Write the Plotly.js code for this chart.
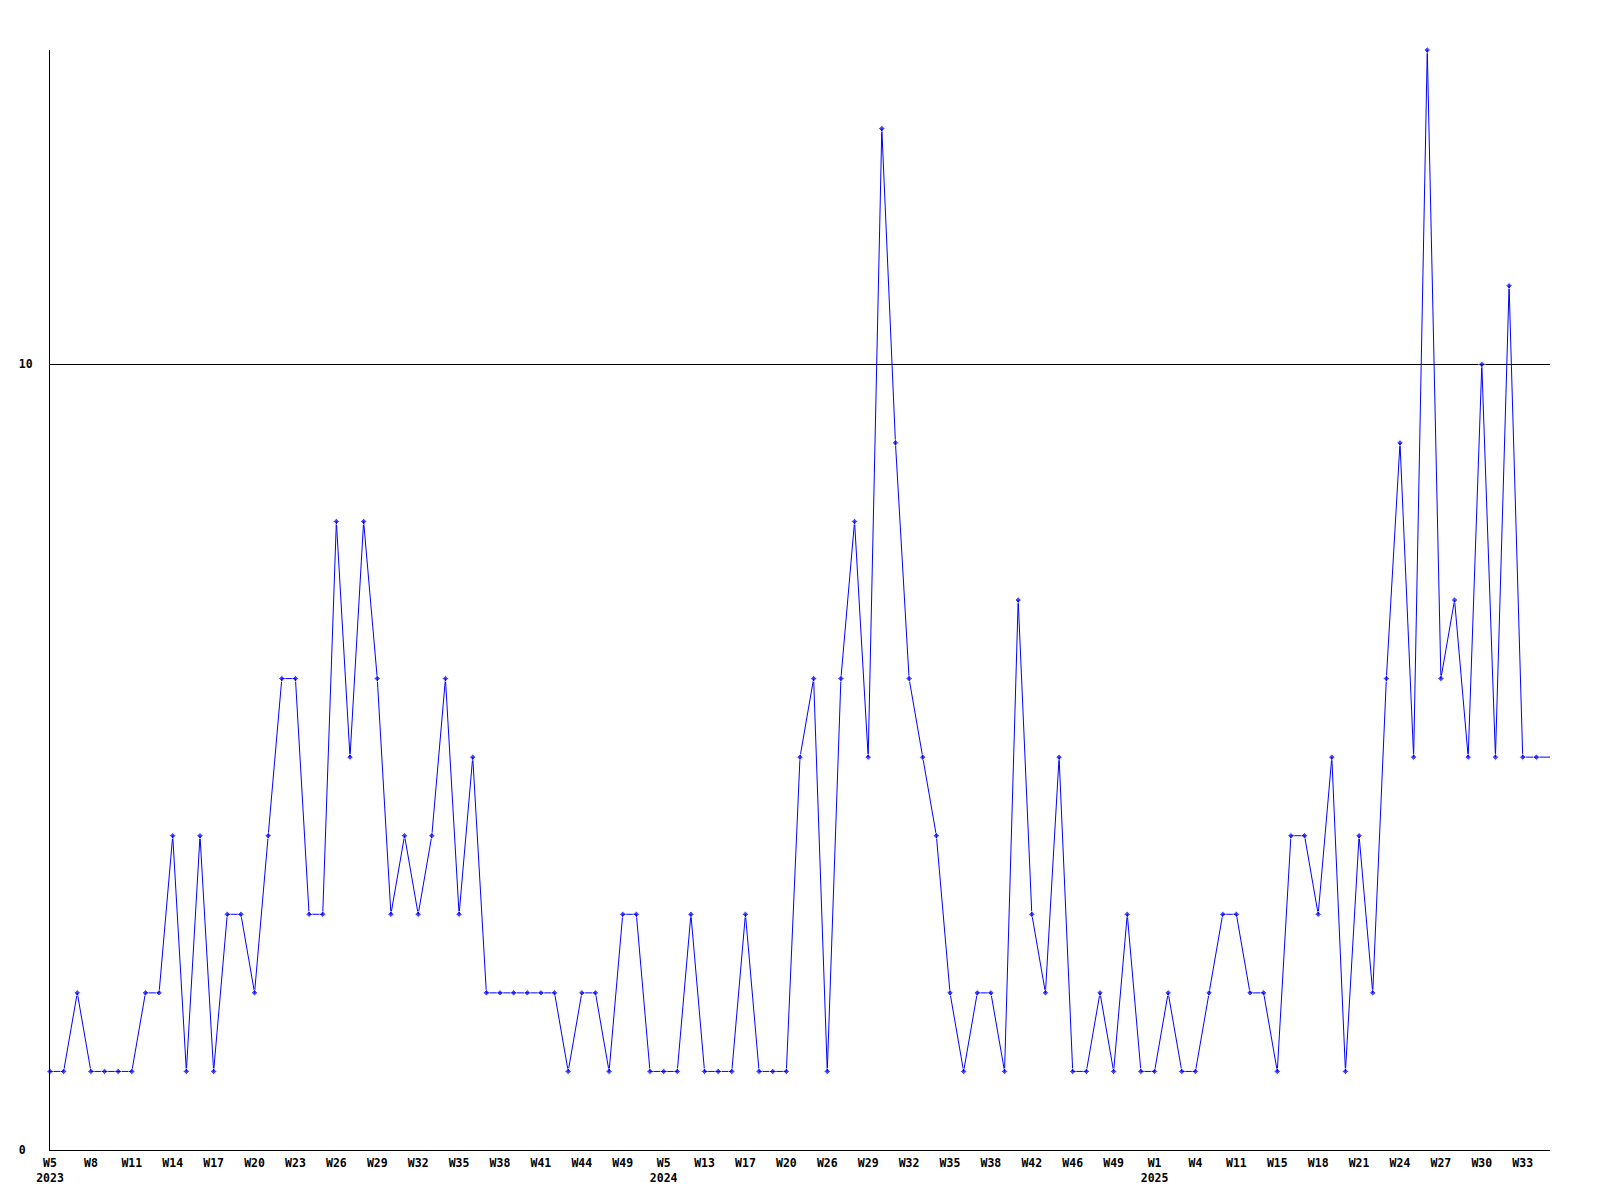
<!DOCTYPE html>
<html>
<head>
<meta charset="utf-8">
<script src="https://cdn.plot.ly/plotly-3.0.1.min.js"></script>
<style>
  html, body { margin: 0; padding: 0; background: #ffffff; }
  #chart { width: 1600px; height: 1200px; }
</style>
</head>
<body>
<div id="chart"></div>
<script>
// ---- data ----
const years = [
  2023,2023,2023,2023,2023,2023,2023,2023,2023,2023,
  2023,2023,2023,2023,2023,2023,2023,2023,2023,2023,
  2023,2023,2023,2023,2023,2023,2023,2023,2023,2023,
  2023,2023,2023,2023,2023,2023,2023,2023,2023,2023,
  2023,2023,2023,2023,2023,
  2024,2024,2024,2024,2024,2024,2024,2024,2024,2024,
  2024,2024,2024,2024,2024,2024,2024,2024,2024,2024,
  2024,2024,2024,2024,2024,2024,2024,2024,2024,2024,
  2024,2024,2024,2024,2024,2024,
  2025,2025,2025,2025,2025,2025,2025,2025,2025,2025,
  2025,2025,2025,2025,2025,2025,2025,2025,2025,2025,
  2025,2025,2025,2025,2025,2025,2025,2025,2025,2025
];
const weeks = [
  "W5","W6","W7","W8","W9","W10","W11","W12","W13","W14",
  "W15","W16","W17","W18","W19","W20","W21","W22","W23","W24",
  "W25","W26","W27","W28","W29","W30","W31","W32","W33","W34",
  "W35","W36","W37","W38","W39","W40","W41","W42","W43","W44",
  "W46","W47","W49","W50","W52",
  "W5","W8","W10","W13","W14","W16","W17","W18","W19","W20",
  "W22","W24","W26","W27","W28","W29","W30","W31","W32","W33",
  "W34","W35","W36","W37","W38","W39","W41","W42","W43","W44",
  "W46","W47","W48","W49","W50","W52",
  "W1","W2","W3","W4","W6","W9","W11","W12","W14","W15",
  "W16","W17","W18","W19","W20","W21","W22","W23","W24","W25",
  "W26","W27","W28","W29","W30","W31","W32","W33","W34","W35"
];
const counts = [
  1,1,2,1,1,1,1,2,2,4,
  1,4,1,3,3,2,4,6,6,3,
  3,8,5,8,6,3,4,3,4,6,
  3,5,2,2,2,2,2,2,1,2,
  2,1,3,3,1,
  1,1,3,1,1,1,3,1,1,1,
  5,6,1,6,8,5,13,9,6,5,
  4,2,1,2,2,1,7,3,2,5,
  1,1,2,1,3,1,
  1,2,1,1,2,3,3,2,2,1,
  4,4,3,5,1,4,2,6,9,5,
  14,6,7,5,10,5,11,5,5,5
];
const yTickVals = [0, 10];
const yTickText = ["0\u00a0", "10"];

// ---- build ticks every third point ----
const xIdx = counts.map((_, i) => i);
const tickVals = [];
const tickText = [];
let lastYear = null;
for (let i = 0; i < weeks.length; i += 3) {
  tickVals.push(i);
  let t = weeks[i];
  if (years[i] !== lastYear) { t += "<br>" + years[i]; lastYear = years[i]; }
  tickText.push(t);
}
const markerSizes = counts.map((_, i) => (i === counts.length - 1 ? 0 : 5));

const fontFam = '"DejaVu Sans Mono", "Liberation Mono", monospace';

const trace = {
  type: 'scatter',
  mode: 'lines+markers',
  x: xIdx,
  y: counts,
  text: counts.map((_, i) => years[i] + " " + weeks[i]),
  line: { color: '#0000ff', width: 1 },
  marker: { color: '#0000ff', size: markerSizes, symbol: 'diamond' },
  cliponaxis: false,
  hovertemplate: '%{text}: %{y}<extra></extra>'
};

const layout = {
  width: 1600,
  height: 1200,
  margin: { l: 50, r: 50, t: 50, b: 50 },
  paper_bgcolor: '#ffffff',
  plot_bgcolor: '#ffffff',
  showlegend: false,
  font: { family: fontFam, size: 11.5, color: '#000000', weight: 'bold' },
  xaxis: {
    range: [0, counts.length - 1],
    tickmode: 'array',
    tickvals: tickVals,
    ticktext: tickText,
    showgrid: false,
    zeroline: false,
    showline: true,
    linecolor: '#000000',
    linewidth: 1,
    ticks: '',
    ticklabelstandoff: 2,
    tickangle: 0,
    tickfont: { family: fontFam, size: 11.5, color: '#000000', weight: 'bold' }
  },
  yaxis: {
    range: [0, 14],
    tickmode: 'array',
    tickvals: yTickVals,
    ticktext: yTickText,
    showgrid: true,
    gridcolor: '#000000',
    gridwidth: 1,
    zeroline: false,
    showline: true,
    linecolor: '#000000',
    linewidth: 1,
    ticks: '',
    ticklabelstandoff: 14,
    tickfont: { family: fontFam, size: 11.5, color: '#000000', weight: 'bold' }
  }
};

Plotly.newPlot('chart', [trace], layout, { displayModeBar: false, staticPlot: false });
</script>
</body>
</html>
